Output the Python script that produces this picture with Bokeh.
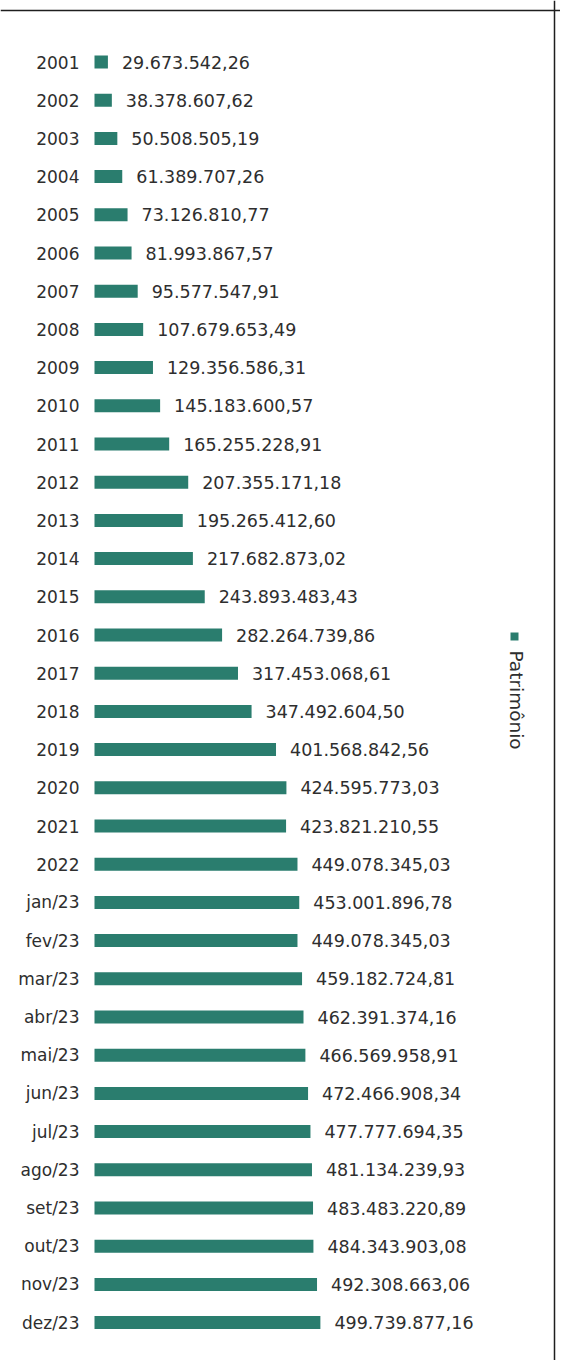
import math
from bokeh.plotting import figure
from bokeh.models import Range1d, ColumnDataSource, Span
from bokeh.core.properties import value
from bokeh.embed import file_html
from bokeh.resources import INLINE

categories = ["2001", "2002", "2003", "2004", "2005", "2006", "2007", "2008", "2009", "2010",
              "2011", "2012", "2013", "2014", "2015", "2016", "2017", "2018", "2019", "2020",
              "2021", "2022", "jan/23", "fev/23", "mar/23", "abr/23", "mai/23", "jun/23",
              "jul/23", "ago/23", "set/23", "out/23", "nov/23", "dez/23"]
patrimonio = [29673542.26, 38378607.62, 50508505.19, 61389707.26, 73126810.77, 81993867.57,
              95577547.91, 107679653.49, 129356586.31, 145183600.57, 165255228.91,
              207355171.18, 195265412.60, 217682873.02, 243893483.43, 282264739.86,
              317453068.61, 347492604.50, 401568842.56, 424595773.03, 423821210.55,
              449078345.03, 453001896.78, 449078345.03, 459182724.81, 462391374.16,
              466569958.91, 472466908.34, 477777694.35, 481134239.93, 483483220.89,
              484343903.08, 492308663.06, 499739877.16]
labels = ["29.673.542,26", "38.378.607,62", "50.508.505,19", "61.389.707,26", "73.126.810,77",
          "81.993.867,57", "95.577.547,91", "107.679.653,49", "129.356.586,31", "145.183.600,57",
          "165.255.228,91", "207.355.171,18", "195.265.412,60", "217.682.873,02", "243.893.483,43",
          "282.264.739,86", "317.453.068,61", "347.492.604,50", "401.568.842,56", "424.595.773,03",
          "423.821.210,55", "449.078.345,03", "453.001.896,78", "449.078.345,03", "459.182.724,81",
          "462.391.374,16", "466.569.958,91", "472.466.908,34", "477.777.694,35", "481.134.239,93",
          "483.483.220,89", "484.343.903,08", "492.308.663,06", "499.739.877,16"]
series_name = "Patrimônio"

W, H = 560, 1360
BAR_COLOR = "#2a7d6e"
TEXT_COLOR = "#2e2e2e"
FONT = "DejaVu Sans"

# layout (pixels within figure)
origin_px = 94.0
px_per_unit = 0.452e-6
row0_px = 61.5
row_step = 38.2

x_start = -origin_px / px_per_unit
x_end = (W - origin_px) / px_per_unit
y_top = -row0_px / row_step
y_bottom = (H - row0_px) / row_step

n = len(categories)
ypos = list(range(n))
src = ColumnDataSource(dict(y=ypos, v=patrimonio, cat=categories, lab=labels,
                            zero=[0] * n))

p = figure(width=W, height=H, output_backend="svg", toolbar_location=None,
           x_range=Range1d(x_start, x_end), y_range=Range1d(y_bottom, y_top),
           min_border=0, background_fill_color="white", border_fill_color="white")
p.axis.visible = False
p.grid.visible = False
p.outline_line_color = None

p.hbar(y="y", left="zero", right="v", height=13 / row_step, source=src,
       fill_color=BAR_COLOR, line_color=None)

p.text(x="zero", y="y", text="cat", source=src, x_offset=-15, text_align="right",
       text_baseline="middle", text_font=value(FONT), text_font_size="17px",
       text_color=TEXT_COLOR)
p.text(x="v", y="y", text="lab", source=src, x_offset=14, text_align="left",
       text_baseline="middle", text_font=value(FONT), text_font_size="17.5px",
       text_color=TEXT_COLOR)

# legend (rotated)
leg_x = (516 - origin_px) / px_per_unit
leg_sq_y = (636 - row0_px) / row_step
leg_txt_y = (650 - row0_px) / row_step
p.scatter(x=[(514 - origin_px) / px_per_unit], y=[leg_sq_y], marker="square", size=8,
          fill_color=BAR_COLOR, line_color=None)
p.text(x=[leg_x], y=[leg_txt_y], text=[series_name], angle=-math.pi / 2,
       text_align="left", text_baseline="middle", text_font=value(FONT),
       text_font_size="18.5px", text_color=TEXT_COLOR)

# border (top, right)
p.add_layout(Span(location=y_top + 10 / row_step, dimension="width",
                  line_color="#1e1e1e", line_width=1.5))
p.add_layout(Span(location=x_start + 554 / px_per_unit, dimension="height",
                  line_color="#1e1e1e", line_width=1.5))

open("out.html", "w").write(file_html(p, INLINE))
